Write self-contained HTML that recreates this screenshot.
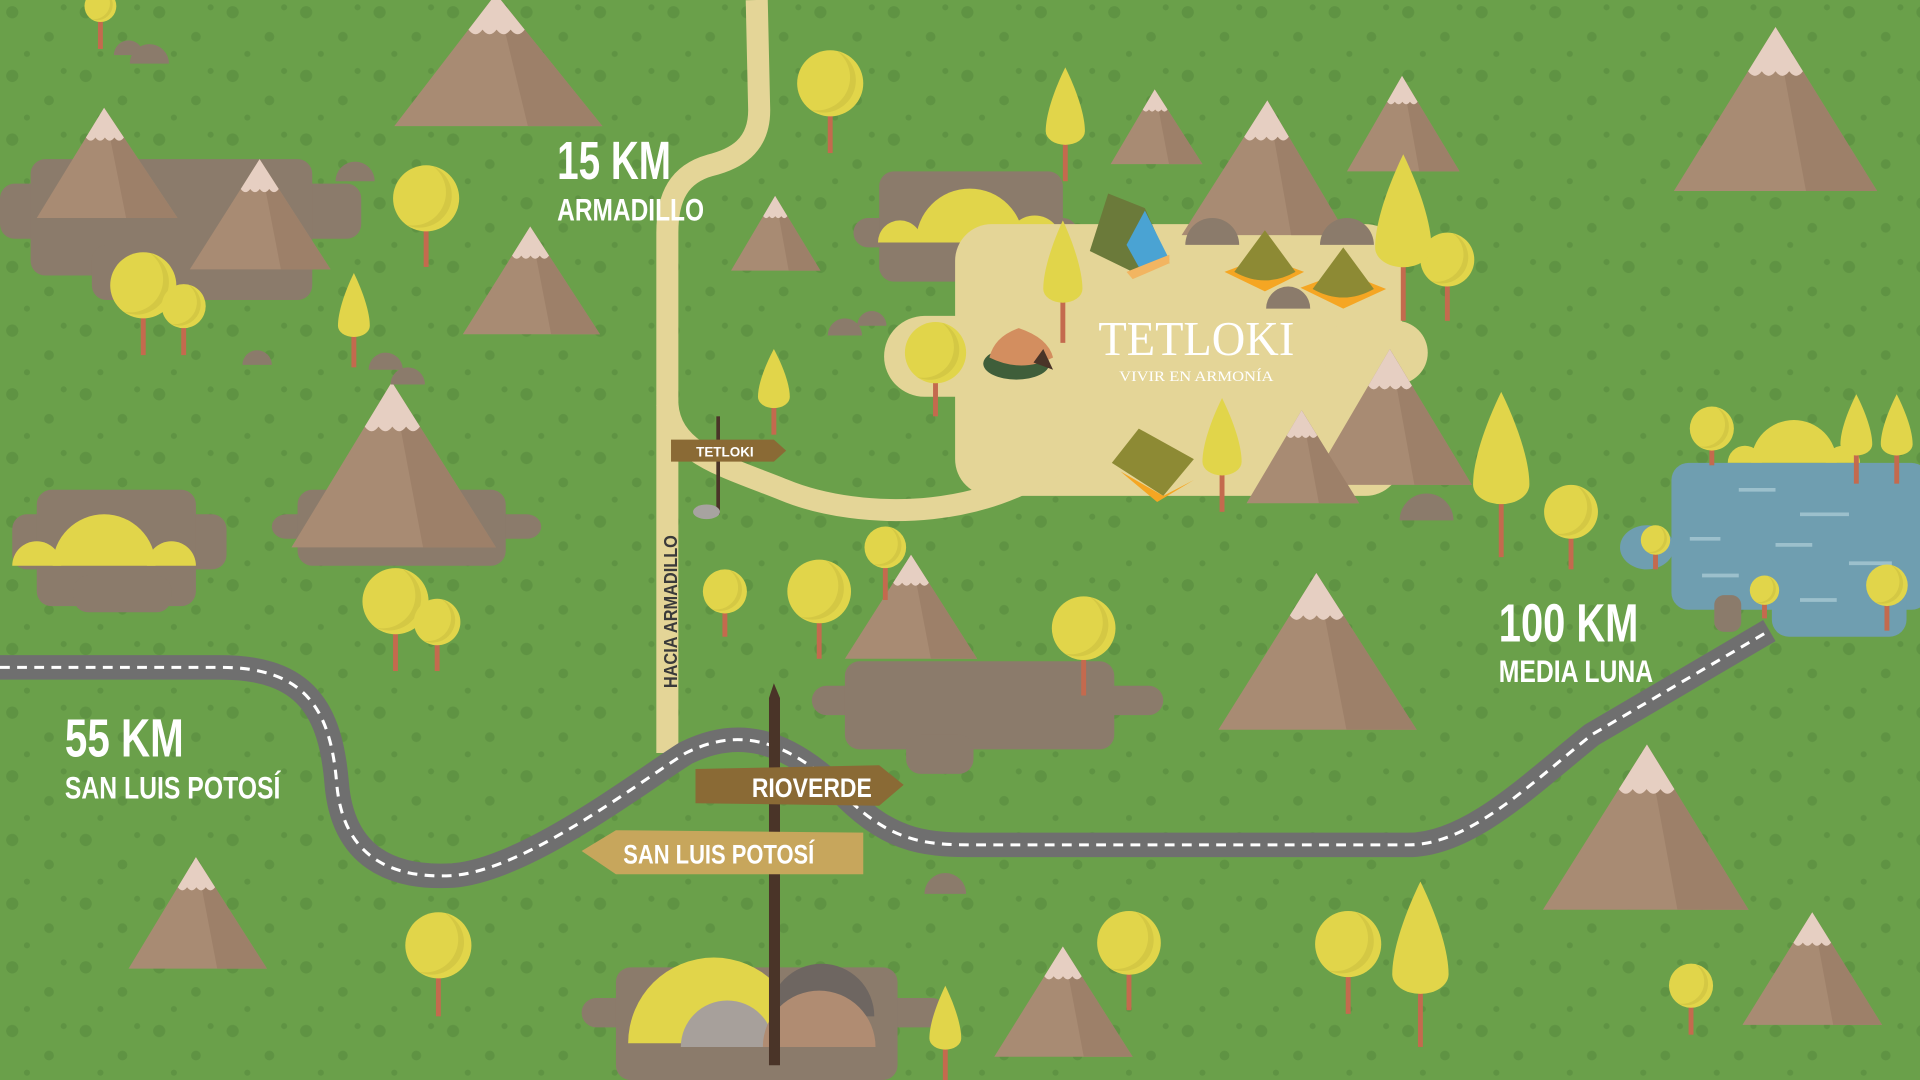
<!DOCTYPE html>
<html><head><meta charset="utf-8"><style>
html,body{margin:0;padding:0;width:1920px;height:1080px;overflow:hidden;background:#6aa04a}
svg{display:block}
.k{font-family:"Liberation Sans",sans-serif;font-weight:bold;fill:#fff}
</style></head><body>
<svg id="s" width="1920" height="1080" viewBox="0 0 1568 882" preserveAspectRatio="none" xmlns="http://www.w3.org/2000/svg">
<defs>
<pattern id="dots" width="60" height="52" patternUnits="userSpaceOnUse">
<circle cx="10" cy="10" r="5" fill="#5f9343"/><circle cx="40" cy="30" r="4" fill="#5f9343"/><circle cx="22" cy="44" r="2.5" fill="#5f9343"/><circle cx="52" cy="6" r="2.5" fill="#5f9343"/>
</pattern>
</defs>
<rect width="1568" height="882" fill="#6aa04a"/>
<rect width="1568" height="882" fill="url(#dots)"/>
<g id="blobs" fill="#8b7b6b"></g>
<g id="bushes"></g>
<g fill="#e4d597">
<rect x="780" y="183" width="365" height="222" rx="30"/>
<rect x="722" y="258" width="120" height="66" rx="33"/>
<rect x="1080" y="262" width="86" height="52" rx="26"/>
</g>
<path d="M618,0 L620,90 C620,120 600,130 580,135 C555,142 545,160 545,190 L545,615" fill="none" stroke="#e4d597" stroke-width="18"/>
<path d="M545,330 C548,370 590,380 640,400 C700,425 820,430 890,355" fill="none" stroke="#e4d597" stroke-width="18"/>
<g fill="#6f9eb0">
<rect x="1365" y="378" width="210" height="120" rx="14"/>
<rect x="1447" y="470" width="110" height="50" rx="14"/>
<ellipse cx="1345" cy="447" rx="22" ry="18"/>
<rect x="1400" y="486" width="22" height="30" rx="8" fill="#8b7b6b"/>
</g>
<g stroke="#9cc0cc" stroke-width="3">
<line x1="1420" y1="400" x2="1450" y2="400"/><line x1="1470" y1="420" x2="1510" y2="420"/><line x1="1380" y1="440" x2="1405" y2="440"/><line x1="1450" y1="445" x2="1480" y2="445"/><line x1="1510" y1="460" x2="1545" y2="460"/><line x1="1390" y1="470" x2="1420" y2="470"/><line x1="1470" y1="490" x2="1500" y2="490"/>
</g>
<g id="mtn"></g>
<g id="rocks" fill="#8b7b6b"></g>
<path d="M0,545 L180,545 C250,545 270,580 275,640 C280,700 320,718 370,715 C430,710 520,640 560,615 C600,595 640,600 690,650 C730,690 760,690 800,690 L1150,690 C1200,690 1250,640 1300,600 L1445,515" fill="none" stroke="#6f6f6f" stroke-width="20"/>
<path d="M0,545 L180,545 C250,545 270,580 275,640 C280,700 320,718 370,715 C430,710 520,640 560,615 C600,595 640,600 690,650 C730,690 760,690 800,690 L1150,690 C1200,690 1250,640 1300,600 L1445,515" fill="none" stroke="#fff" stroke-width="2.5" stroke-dasharray="8 6"/>
<g id="trees"></g>
<g>
<polygon points="905,158 935,170 955,215 925,222 890,205" fill="#6b7a3a"/>
<polygon points="935,172 955,212 930,218 920,200" fill="#4aa3d3"/>
<polygon points="920,222 955,208 955,215 925,228" fill="#f2b561"/>
<polygon points="1000,222 1032,210 1065,222 1033,238" fill="#f5a623"/>
<path d="M1033,188 L1058,222 Q1033,236 1008,222 Z" fill="#8d8a34"/>
<polygon points="1062,235 1097,222 1132,236 1097,252" fill="#f5a623"/>
<path d="M1097,202 L1122,236 Q1097,250 1072,236 Z" fill="#8d8a34"/>
<ellipse cx="830" cy="297" rx="27" ry="13" fill="#3f5e3a"/>
<path d="M808,292 Q812,275 832,268 Q856,276 860,292 Q834,305 808,292Z" fill="#d38e5f"/>
<polygon points="844,296 852,285 860,302" fill="#4a3428"/>
<polygon points="908,378 930,350 975,375 950,405" fill="#8d8a34"/>
<polygon points="915,385 950,405 975,392 945,410" fill="#f5a623"/>
</g>
<rect x="585" y="340" width="3" height="80" fill="#4a3428"/>
<polygon points="548,359 632,359 642,368 632,377 548,377" fill="#8a6a35"/>
<text x="592" y="373" class="k" font-size="11" text-anchor="middle">TETLOKI</text>
<ellipse cx="577" cy="418" rx="11" ry="6" fill="#a7a3a0"/>
<polygon points="632,558 637,570 637,870 628,870 628,570" fill="#4a3428"/>
<polygon points="568,628 718,625 738,641 718,658 568,656" fill="#8a6a35"/>
<text x="663" y="651" class="k" font-size="22" text-anchor="middle" textLength="98" lengthAdjust="spacingAndGlyphs">RIOVERDE</text>
<polygon points="475,695 503,678 705,680 705,714 503,714" fill="#c7a65c"/>
<text x="587" y="705" class="k" font-size="22" text-anchor="middle" textLength="156" lengthAdjust="spacingAndGlyphs">SAN LUIS POTOSÍ</text>
<text x="455" y="146" class="k" font-size="44" textLength="93" lengthAdjust="spacingAndGlyphs">15 KM</text>
<text x="455" y="180" class="k" font-size="26" textLength="120" lengthAdjust="spacingAndGlyphs">ARMADILLO</text>
<text x="53" y="618" class="k" font-size="44" textLength="97" lengthAdjust="spacingAndGlyphs">55 KM</text>
<text x="53" y="652" class="k" font-size="26" textLength="176" lengthAdjust="spacingAndGlyphs">SAN LUIS POTOSÍ</text>
<text x="1224" y="524" class="k" font-size="44" textLength="114" lengthAdjust="spacingAndGlyphs">100 KM</text>
<text x="1224" y="557" class="k" font-size="26" textLength="126" lengthAdjust="spacingAndGlyphs">MEDIA LUNA</text>
<text transform="translate(553,562) rotate(-90)" font-family="Liberation Sans,sans-serif" font-weight="bold" font-size="15" fill="#3a3a3a" textLength="125" lengthAdjust="spacingAndGlyphs">HACIA ARMADILLO</text>
<text x="977" y="290" font-family="Liberation Serif,serif" font-size="40" fill="#fff" text-anchor="middle" textLength="160" lengthAdjust="spacingAndGlyphs">TETLOKI</text>
<text x="977" y="311" font-family="Liberation Serif,serif" font-size="12" fill="#fff" text-anchor="middle" textLength="126" lengthAdjust="spacingAndGlyphs">VIVIR EN ARMONÍA</text>
</svg>
<script>
var NS="http://www.w3.org/2000/svg";
function el(p,t,a){var e=document.createElementNS(NS,t);for(var k in a)e.setAttribute(k,a[k]);document.getElementById(p).appendChild(e);return e;}
[[0,150,295,45],[25,130,230,95],[75,200,180,45],[10,420,175,45],[30,400,130,95],[60,470,80,30],[663,560,287,24],[690,540,220,72],[740,600,55,32],[697,178,183,24],[718,140,150,90],[475,815,298,24],[503,790,230,92],[222,420,220,20],[243,400,170,62]].forEach(function(b){el("blobs","rect",{x:b[0],y:b[1],width:b[2],height:b[3],rx:12});});
[[85,462,42],[30,462,20],[140,462,20],[792,198,44],[735,198,18],[845,198,22],[1465,378,35],[1425,378,14],[1505,378,14]].forEach(function(b){el("bushes","path",{d:"M"+(b[0]-b[2])+","+b[1]+" A"+b[2]+","+b[2]+" 0 0 1 "+(b[0]+b[2])+","+b[1]+"Z",fill:"#e1d54a"});});
el("bushes","path",{d:"M513,852 A70,70 0 0 1 653,852Z",fill:"#e1d54a"});
el("bushes","path",{d:"M628,830 A43,43 0 0 1 714,830Z",fill:"#6e6661"});
el("bushes","path",{d:"M556,855 A38,38 0 0 1 632,855Z",fill:"#a7a09b"});
el("bushes","path",{d:"M623,855 A46,46 0 0 1 715,855Z",fill:"#b08c72"});
[[85,88,30,145,178],[212,130,155,270,220],[405,-5,322,492,103],[433,185,378,490,273],[320,312,238,405,447],[633,160,597,670,221],[943,73,907,982,134],[1035,82,965,1100,192],[1145,62,1100,1192,140],[1450,22,1367,1533,156],[1135,285,1070,1202,396],[1063,335,1018,1110,411],[744,453,690,798,538],[1075,468,995,1157,596],[1345,608,1260,1428,743],[160,700,105,218,791],[868,773,812,925,863],[1480,745,1423,1537,837]].forEach(function(m){
 var x=m[0],y=m[1],l=m[2],r=m[3],b=m[4];
 el("mtn","polygon",{points:x+","+y+" "+r+","+b+" "+l+","+b,fill:"#a88b73"});
 el("mtn","polygon",{points:x+","+y+" "+r+","+b+" "+(x+(r-x)*0.3)+","+b,fill:"#9d8069"});
 var f=0.27,h=b-y,yy=y+h*f,xl=x-(x-l)*f,xr=x+(r-x)*f,w=xr-xl;
 var d="M"+x+","+y+" L"+xr+","+yy;
 for(var i=4;i>=1;i--){var cx=xl+w*(i-0.5)/4;d+=" Q"+cx+","+(yy+w/6)+" "+(xl+w*(i-1)/4)+","+yy;}
 d+="Z";el("mtn","path",{d:d,fill:"#e6cfc2"});
});
[[105,45,12],[122,52,16],[290,148,16],[210,298,12],[315,302,14],[333,314,14],[690,274,14],[712,266,12],[990,200,22],[1100,200,22],[1052,252,18],[1165,425,22],[772,730,17]].forEach(function(r){el("rocks","path",{d:"M"+(r[0]-r[2])+","+r[1]+" A"+r[2]+","+r[2]+" 0 0 1 "+(r[0]+r[2])+","+r[1]+"Z"});});
[[678,68,27,125],[348,162,27,218],[117,233,27,290],[150,250,18,290],[764,288,25,340],[1182,212,22,262],[1283,418,22,465],[723,447,17,490],[592,483,18,520],[669,483,26,538],[885,513,26,568],[323,491,27,548],[357,508,19,548],[358,772,27,830],[922,770,26,825],[1101,771,27,828],[1381,805,18,845],[1398,350,18,380],[1352,441,12,465],[1441,482,12,505],[1541,478,17,515],[82,5,13,40]].forEach(function(t){
 el("trees","rect",{x:t[0]-2,y:t[1],width:4,height:t[3]-t[1],fill:"#c46a4e"});
 el("trees","circle",{cx:t[0],cy:t[1],r:t[2],fill:"#e1d54a"});
 el("trees","path",{d:"M"+(t[0]+t[2]*0.2)+","+(t[1]-t[2]*0.98)+" A"+t[2]+","+t[2]+" 0 0 1 "+(t[0]-t[2]*0.6)+","+(t[1]+t[2]*0.8)+" A"+t[2]*0.9+","+t[2]*0.9+" 0 0 0 "+(t[0]+t[2]*0.2)+","+(t[1]-t[2]*0.98)+"Z",fill:"#d4c844"});
});
[[870,55,148,32],[289,223,300,26],[632,285,355,26],[868,180,280,32],[1146,126,262,46],[998,325,418,32],[1226,320,455,46],[1160,720,855,46],[772,805,882,26],[1516,322,395,26],[1549,322,395,26]].forEach(function(t){
 var x=t[0],y=t[1],b=t[2],w=t[3]/2,h=(b-y)*0.7;
 el("trees","rect",{x:x-2,y:y+h*0.8,width:4,height:b-y-h*0.8,fill:"#c46a4e"});
 el("trees","path",{d:"M"+x+","+y+" C"+(x+w*0.6)+","+(y+h*0.3)+" "+(x+w)+","+(y+h*0.6)+" "+(x+w)+","+(y+h*0.8)+" A"+w+","+w*0.7+" 0 0 1 "+(x-w)+","+(y+h*0.8)+" C"+(x-w)+","+(y+h*0.6)+" "+(x-w*0.6)+","+(y+h*0.3)+" "+x+","+y+"Z",fill:"#e1d54a"});
});
</script>
</body></html>
